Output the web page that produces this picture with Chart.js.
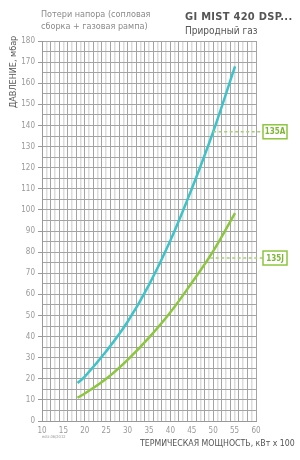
<!DOCTYPE html>
<html>
<head>
<meta charset="utf-8">
<script src="https://cdn.jsdelivr.net/npm/chart.js@4.4.1/dist/chart.umd.min.js"></script>
<style>
  body { margin: 0; background: #fff; }
  #wrap { position: relative; width: 300px; height: 460px; font-family: "Liberation Sans Narrow", "DejaVu Sans Condensed", sans-serif; }
  #wrap div { position: absolute; white-space: nowrap; }
  .note { left: 41px; top: 8px; font-size: 9px; line-height: 12px; color: #8a8a8a; }
  .title { left: 185px; top: 10px; font-size: 11px; font-weight: bold; color: #555; letter-spacing: 0.3px; }
  .sub { left: 185px; top: 25px; font-size: 10px; color: #555; }
  .ytitle { left: 8px; top: 30px; font-size: 9px; color: #555; transform-origin: 0 0; transform: rotate(-90deg) translate(-78px, 0); }
  .xtitle { left: 140px; top: 438px; font-size: 8.7px; color: #555; }
  .ed { left: 42px; top: 434px; font-size: 4px; color: #999; }
</style>
</head>
<body>
<div id="wrap">
  <canvas id="grafico" width="300" height="460"></canvas>
  <div class="note">Потери напора (сопловая<br>сборка + газовая рампа)</div>
  <div class="title">GI MIST 420 DSP...</div>
  <div class="sub">Природный газ</div>
  <div class="ytitle">ДАВЛЕНИЕ, мбар</div>
  <div class="xtitle">ТЕРМИЧЕСКАЯ МОЩНОСТЬ, кВт x 100</div>
  <div class="ed">ediz.06/2012</div>
</div>
<script>
// dados
const potencia = [18.3, 20, 25, 30, 35, 40, 45, 50, 55.1];
const perda135A = [18, 21, 33, 47, 64.5, 85.5, 110, 137, 168];
const perda135J = [11, 13, 20, 29, 39.5, 51.5, 65.5, 80.5, 98.5];

// marcadores (modelo, potência, pressão)
const marcadores = ["135A", "135J"];
const marcadorX = [50, 49.3];
const marcadorY = [137, 77.2];

const cores = ["#3ec3c9", "#8cc63f"];

function pontos(ys) {
    return potencia.map((x, i) => ({ x: x, y: ys[i] }));
}

// desenha as linhas tracejadas e as caixas de rótulo
const rotulos = {
    id: "rotulos",
    afterDraw(chart) {
        const ctx = chart.ctx;
        const sx = chart.scales.x;
        const sy = chart.scales.y;
        ctx.save();
        marcadores.forEach((txt, i) => {
            const px = sx.getPixelForValue(marcadorX[i]);
            const py = sy.getPixelForValue(marcadorY[i]);
            const bx = 263;
            ctx.strokeStyle = "#a8cf76";
            ctx.lineWidth = 1.5;
            ctx.setLineDash([3, 2.5]);
            ctx.beginPath();
            ctx.moveTo(px, py);
            ctx.lineTo(bx, py);
            ctx.stroke();
            ctx.setLineDash([]);
            ctx.fillStyle = "#fff";
            ctx.fillRect(bx, py - 7, 24, 14);
            ctx.strokeStyle = "#8cc63f";
            ctx.lineWidth = 1.5;
            ctx.strokeRect(bx, py - 7, 24, 14);
            ctx.fillStyle = "#7fb536";
            ctx.font = "bold 8px 'Liberation Sans Narrow', 'DejaVu Sans Condensed', sans-serif";
            ctx.textAlign = "center";
            ctx.textBaseline = "middle";
            ctx.fillText(txt, bx + 12, py + 0.5);
        });
        ctx.restore();
    }
};

const fonteTicks = { family: "'Liberation Sans Narrow', 'DejaVu Sans Condensed', sans-serif", size: 8 };

new Chart(document.getElementById("grafico"), {
    type: "line",
    data: {
        datasets: [
            { label: "135A", data: pontos(perda135A), borderColor: cores[0], borderWidth: 2.5, pointRadius: 0, tension: 0.4 },
            { label: "135J", data: pontos(perda135J), borderColor: cores[1], borderWidth: 2.5, pointRadius: 0, tension: 0.4 }
        ]
    },
    options: {
        responsive: false,
        animation: false,
        layout: { padding: { left: 0, right: 44, top: 41, bottom: 0 } },
        plugins: { legend: { display: false }, tooltip: { enabled: false } },
        scales: {
            x: {
                type: "linear",
                min: 10,
                max: 60,
                afterFit: (s) => { s.height = 39; },
                border: { color: "#999" },
                grid: {
                    drawTicks: false,
                    color: (c) => (c.tick.value % 2 === 0 ? "#a4a4a4" : "#dcdcdc"),
                    lineWidth: (c) => (c.tick.value % 2 === 0 ? 1 : 1.5)
                },
                ticks: {
                    stepSize: 1,
                    autoSkip: false,
                    maxRotation: 0,
                    padding: 5,
                    color: "#999",
                    font: fonteTicks,
                    callback: (v) => (v % 5 === 0 ? v : "")
                }
            },
            y: {
                min: 0,
                max: 180,
                afterFit: (s) => { s.width = 42; },
                border: { color: "#999" },
                grid: {
                    color: "#a4a4a4",
                    tickLength: 4,
                    tickColor: (c) => (c.tick.value % 10 === 0 ? "#999" : "rgba(0,0,0,0)")
                },
                ticks: {
                    stepSize: 5,
                    autoSkip: false,
                    padding: 3,
                    color: "#999",
                    font: fonteTicks,
                    callback: (v) => (v % 10 === 0 ? v : "")
                }
            }
        }
    },
    plugins: [rotulos]
});
</script>
</body>
</html>
